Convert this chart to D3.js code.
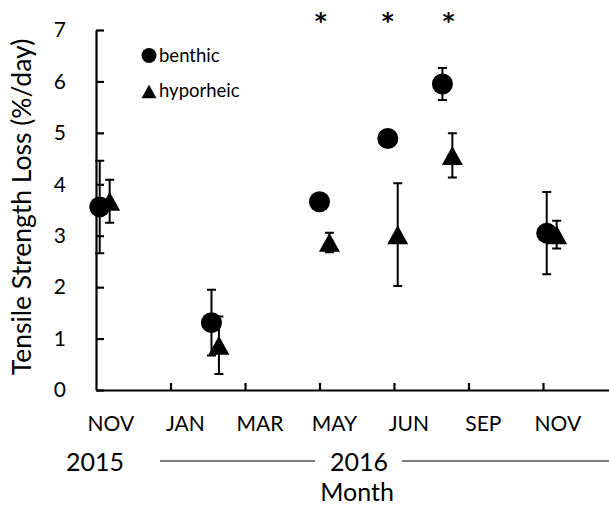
<!DOCTYPE html>
<meta charset="utf-8">
<style>
body { margin: 0; background: #fff; }
svg { display: block; font-family: Lato, sans-serif; }
.axis path, .axis line { stroke: #000; stroke-width: 2.2px; }
.err { stroke: #000; stroke-width: 2px; fill: none; }
</style>
<body>
<script src="https://cdn.jsdelivr.net/npm/d3@7"></script>
<script>

// days after the first sampling (Nov 2015)
var benthicDay   = [3, 93, 180, 235, 279, 363];
var benthicLoss  = [3.56, 1.31, 3.66, 4.89, 5.95, 3.05];
var benthicErr   = [0.90, 0.64, 0.10, 0.10, 0.31, 0.80];

var hyporheicDay  = [11, 99, 188, 243, 287, 371];
var hyporheicLoss = [3.67, 0.87, 2.87, 3.02, 4.56, 3.02];
var hyporheicErr  = [0.42, 0.56, 0.19, 1.00, 0.43, 0.27];

// significant differences (*)
var signifDay = [181, 235, 284];
var signifLevel = 7.3;

var monthTicks  = [0, 60, 120, 180, 240, 300, 360];
var monthLabels = ["NOV", "JAN", "MAR", "MAY", "JUN", "SEP", "NOV"];
var yearLabels  = ["2015", "2016"];
var yTicks = [0, 1, 2, 3, 4, 5, 6, 7];

var W = 609, H = 506;

var svg = d3.select("body").append("svg")
    .attr("width", W)
    .attr("height", H);

var x = d3.scaleLinear().domain([0, 420]).range([96, 96 + 7 * 74.5]);
var y = d3.scaleLinear().domain([0, 7]).range([390, 30]);

// axes, ticks pointing inside
svg.append("g")
    .attr("class", "axis")
    .attr("transform", "translate(0," + y(0) + ")")
    .call(d3.axisBottom(x)
        .tickValues(monthTicks.slice(1))
        .tickSizeInner(-7)
        .tickSizeOuter(0)
        .tickFormat(""));

var gY = svg.append("g")
    .attr("class", "axis")
    .attr("transform", "translate(" + x(0) + ",0)")
    .call(d3.axisLeft(y)
        .tickValues(yTicks)
        .tickSizeInner(-8)
        .tickSizeOuter(0)
        .tickPadding(30)
        .tickFormat(d3.format("d")));
gY.selectAll("text")
    .attr("fill", "#000")
    .style("font-size", "21px")
    .style("font-family", "Lato, sans-serif");

// month labels, year row, axis titles
svg.append("g").selectAll("text")
    .data(monthLabels)
    .join("text")
    .attr("x", function(d, i) { return x(monthTicks[i] + 12); })
    .attr("y", 431)
    .attr("text-anchor", "middle")
    .style("font-size", "21px")
    .text(function(d) { return d; });

svg.append("text")
    .attr("x", 95).attr("y", 471)
    .attr("text-anchor", "middle")
    .style("font-size", "25px")
    .text(yearLabels[0]);
svg.append("text")
    .attr("x", 359).attr("y", 471)
    .attr("text-anchor", "middle")
    .style("font-size", "25px")
    .text(yearLabels[1]);
svg.append("line").attr("class", "err")
    .attr("x1", 160).attr("x2", 315).attr("y1", 461).attr("y2", 461)
    .style("stroke-width", 1.2);
svg.append("line").attr("class", "err")
    .attr("x1", 402).attr("x2", 609).attr("y1", 461).attr("y2", 461)
    .style("stroke-width", 1.2);

svg.append("text")
    .attr("x", 357).attr("y", 501)
    .attr("text-anchor", "middle")
    .style("font-size", "25px")
    .text("Month");

svg.append("text")
    .attr("transform", "translate(31,207) rotate(-90)")
    .attr("text-anchor", "middle")
    .style("font-size", "26.5px")
    .text("Tensile Strength Loss (%/day)");

// markers
var triangle = {
  draw: function(ctx, size) {
    var w = Math.sqrt(size) / 2, h = w * 0.9;
    ctx.moveTo(0, -h);
    ctx.lineTo(w, h);
    ctx.lineTo(-w, h);
    ctx.closePath();
  }
};

function errorBars(days, vals, errs) {
  var g = svg.append("g");
  var cap = 4.5;
  days.forEach(function(d, i) {
    var px = x(d), lo = y(vals[i] - errs[i]), hi = y(vals[i] + errs[i]);
    g.append("path").attr("class", "err")
      .attr("d", "M" + px + "," + lo + "V" + hi +
                 "M" + (px - cap) + "," + hi + "H" + (px + cap) +
                 "M" + (px - cap) + "," + lo + "H" + (px + cap));
  });
}

errorBars(benthicDay, benthicLoss, benthicErr);
errorBars(hyporheicDay, hyporheicLoss, hyporheicErr);

svg.append("g").selectAll("circle")
    .data(benthicDay)
    .join("circle")
    .attr("cx", function(d) { return x(d); })
    .attr("cy", function(d, i) { return y(benthicLoss[i]); })
    .attr("r", 10.5)
    .attr("fill", "#000");

svg.append("g").selectAll("path")
    .data(hyporheicDay)
    .join("path")
    .attr("transform", function(d, i) {
      return "translate(" + x(d) + "," + y(hyporheicLoss[i]) + ")";
    })
    .attr("d", d3.symbol().type(triangle).size(21 * 21))
    .attr("fill", "#000");

// asterisks
svg.append("g").selectAll("text")
    .data(signifDay)
    .join("text")
    .attr("x", function(d) { return x(d); })
    .attr("y", y(signifLevel))
    .attr("dy", "0.62em")
    .attr("text-anchor", "middle")
    .style("font-family", "'DejaVu Sans', sans-serif")
    .style("font-size", "23px")
    .style("font-weight", "bold")
    .text("*");

// legend
var leg = svg.append("g");
leg.append("circle").attr("cx", 149).attr("cy", 55.5).attr("r", 7.5).attr("fill", "#000");
leg.append("path")
    .attr("transform", "translate(149,91.5)")
    .attr("d", d3.symbol().type(triangle).size(15 * 15))
    .attr("fill", "#000");
leg.append("text").attr("x", 159).attr("y", 62)
    .style("font-size", "18.5px").text("benthic");
leg.append("text").attr("x", 159).attr("y", 97)
    .style("font-size", "18.5px").text("hyporheic");

</script>
</body>
